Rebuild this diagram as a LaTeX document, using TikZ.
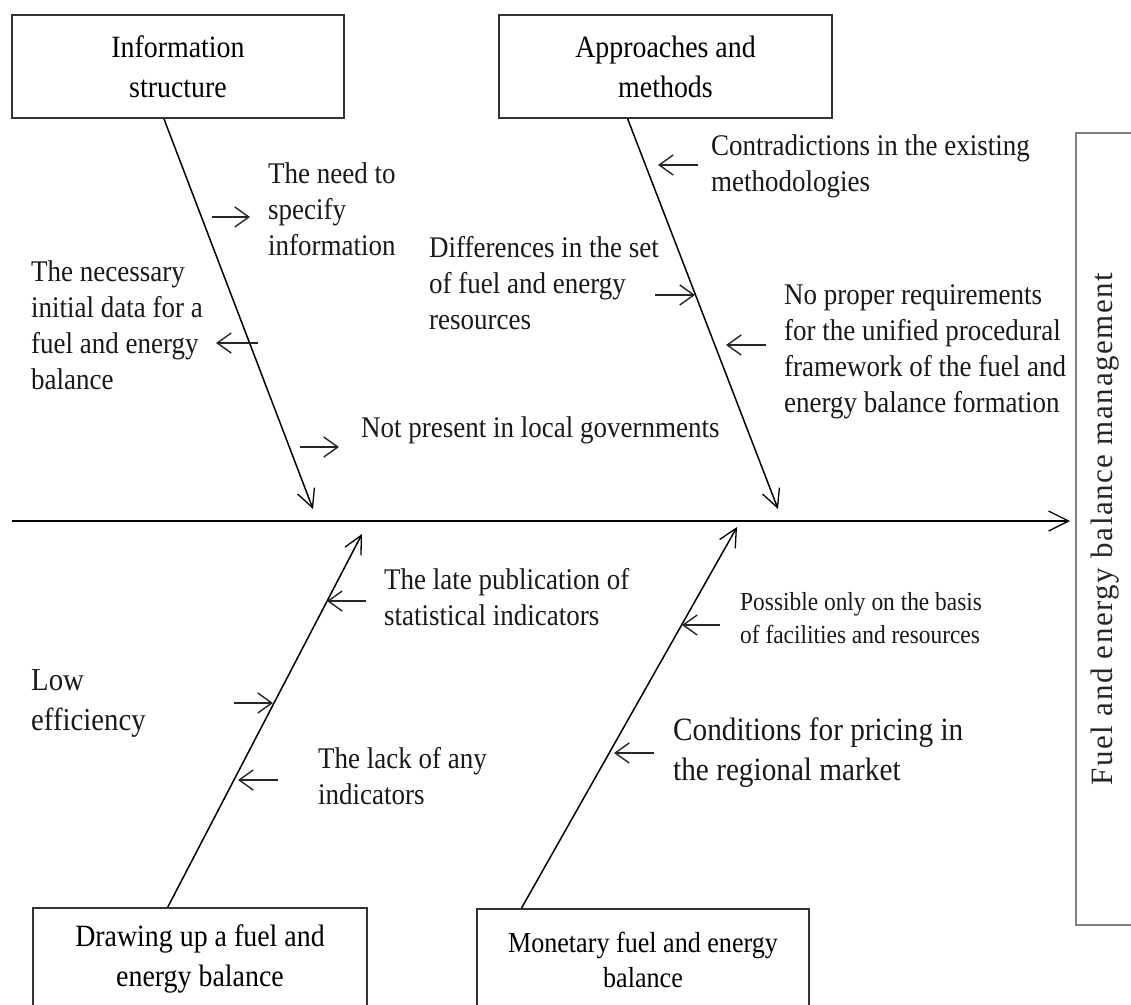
\documentclass[tikz,border=0pt]{standalone}
\usepackage{fontspec}
\setmainfont{Liberation Serif}[FakeStretch=0.9]
\newfontfamily\spacedfont{Liberation Serif}[LetterSpace=5]
\usetikzlibrary{arrows.meta,calc}
\begin{document}
\begin{tikzpicture}[x=1pt,y=-1pt,
  box/.style={draw=black!80, line width=1.8pt, inner sep=0pt, align=center, font=\fontsize{31}{40}\selectfont},
  lbl/.style={anchor=west, inner sep=0pt, align=left, text=black!90, font=\fontsize{30}{36}\selectfont},
  spine/.style={line width=1.5pt, -{Straight Barb[length=18pt,width=18pt,line width=1.3pt]}},
  sarr/.style={line width=1.4pt, black!85, -{Straight Barb[length=14pt,width=20pt]}},
]
\useasboundingbox (0,0) rectangle (1131,1004);

% category boxes
\node[box, minimum width=332pt, minimum height=103pt] (b1) at (178,66.5) {Information\\structure};
\node[box, minimum width=333pt, minimum height=103pt] (b2) at (665.5,66.5) {Approaches and\\methods};
\node[box, minimum width=334pt, minimum height=102pt] (b3) at (200,959) {Drawing up a fuel and\\energy balance};
\node[box, minimum width=332pt, minimum height=101pt, font=\fontsize{29}{35}\selectfont] (b4) at (643,959.5) {Monetary fuel and energy\\balance};

% effect box
\node[draw=black!50, line width=1.8pt, rotate=90, minimum width=792pt, minimum height=58pt, inner sep=0pt,
      text=black!85, font=\spacedfont\fontsize{31}{36}\selectfont] (rb) at (1105,529) {Fuel and energy balance management};

% main spine
\coordinate (m0) at (12,521);
\draw[spine, -{Straight Barb[length=20pt,width=20pt,line width=1.3pt]}] (m0) -- ($(m0 -| rb.center)+(-35,0)$);

% branches
\coordinate (t1) at (313,509);
\coordinate (t2) at (778,509);
\coordinate (t3) at (362,534);
\coordinate (t4) at (737,527);
\draw[spine] ($(b1.south west)!0.458!(b1.south east)$) -- (t1);
\draw[spine] ($(b2.south west)!0.387!(b2.south east)$) -- (t2);
\draw[spine] ($(b3.north west)!0.404!(b3.north east)$) -- (t3);
\draw[spine] ($(b4.north west)!0.136!(b4.north east)$) -- (t4);

% labels
\node[lbl] (need) at (268,209) {The need to\\specify\\information};
\node[lbl] (necessary) at (31,325) {The necessary\\initial data for a\\fuel and energy\\balance};
\node[lbl] (notpresent) at (361,430) {Not present in local governments};
\node[lbl] (differences) at (429,283) {Differences in the set\\of fuel and energy\\resources};
\node[lbl] (contra) at (711,166) {Contradictions in the existing\\methodologies};
\node[lbl] (noproper) at (784,352) {No proper requirements\\for the unified procedural\\framework of the fuel and\\energy balance formation};
\node[lbl] (late) at (384,597) {The late publication of\\statistical indicators};
\node[lbl, font=\fontsize{32}{40}\selectfont] (low) at (31,703) {Low\\efficiency};
\node[lbl] (lack) at (318,776) {The lack of any\\indicators};
\node[lbl, font=\fontsize{26}{33}\selectfont] (possible) at (740,618) {Possible only on the basis\\of facilities and resources};
\node[lbl, font=\fontsize{32.5}{40}\selectfont] (conditions) at (673,753) {Conditions for pricing in\\the regional market};

% small cause arrows
\coordinate (a1s) at (212,217); \coordinate (a1e) at (250,217);
\coordinate (a2s) at (258,343); \coordinate (a2e) at (216,343);
\coordinate (a3s) at (300,447); \coordinate (a3e) at (339,447);
\coordinate (a4s) at (655,295); \coordinate (a4e) at (695,295);
\coordinate (a5s) at (698,165); \coordinate (a5e) at (658,165);
\coordinate (a6s) at (766,345); \coordinate (a6e) at (726,345);
\coordinate (a7s) at (366,601); \coordinate (a7e) at (327,601);
\coordinate (a8s) at (234,703); \coordinate (a8e) at (273,703);
\coordinate (a9s) at (278,780); \coordinate (a9e) at (238,780);
\coordinate (a10s) at (720,625); \coordinate (a10e) at (682,625);
\coordinate (a11s) at (654,753); \coordinate (a11e) at (614,753);
\foreach \i in {1,...,11} {\draw[sarr] (a\i s) -- (a\i e);}
\end{tikzpicture}
\end{document}
